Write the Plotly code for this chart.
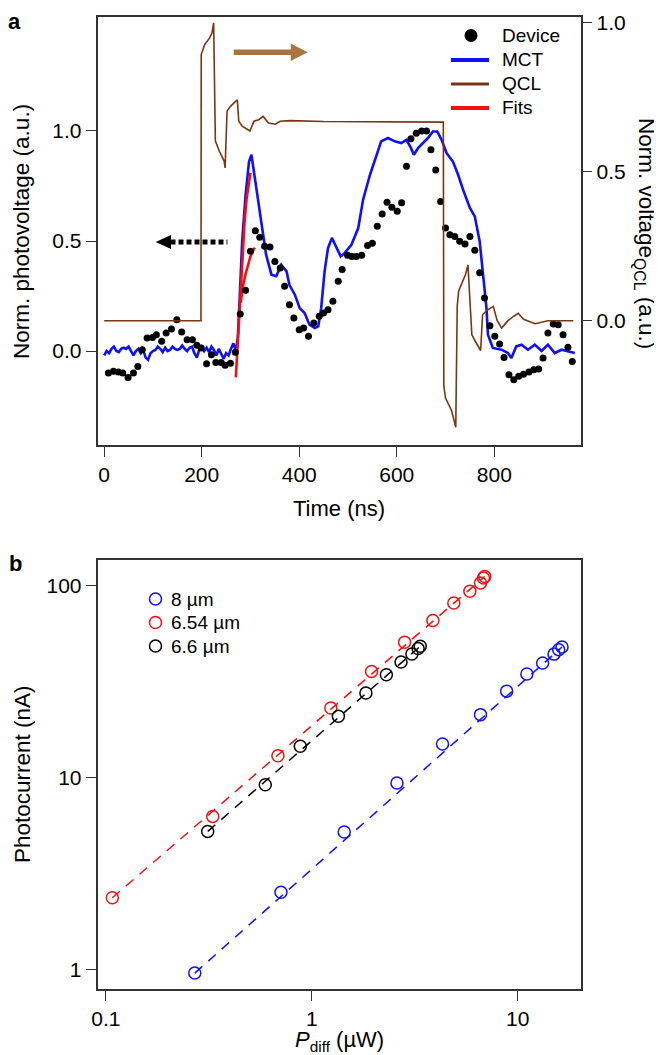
import plotly.graph_objects as go

FONT = "Liberation Sans, Arial, Helvetica, sans-serif"
W, H = 662, 1055

# ---------------- Panel a data ----------------
device_t = [8.7, 19, 29, 38, 49, 60, 69, 78, 88, 99, 107, 118, 127, 138, 149, 159, 170, 181, 190, 199,
            210, 220, 229, 240, 248, 259, 269, 279, 290, 300, 310, 319, 329, 340, 350, 361, 370, 380, 389, 400,
            409, 419, 430, 441, 450, 459, 469, 480, 488, 499, 508, 517, 528, 540, 550, 560, 570, 580, 590, 601,
            610, 620, 629, 640, 651, 661, 670, 680, 690, 700, 709, 719, 729, 740, 750, 760, 770, 780, 791, 801,
            811, 820, 830, 840, 850, 860, 871, 881, 891, 900, 910, 921, 931, 941, 951, 960]
device_v = [-0.10, -0.092, -0.095, -0.10, -0.12, -0.10, -0.07, 0.006, 0.059, 0.062, 0.074, 0.044, 0.082, 0.10, 0.142, 0.086, 0.051, 0.051, 0.026, 0.014,
            -0.058, -0.017, -0.052, -0.052, -0.065, -0.055, -0.006, 0.168, 0.276, 0.453, 0.547, 0.517, 0.476, 0.473, 0.407, 0.377, 0.294, 0.21, 0.15, 0.097,
            0.105, 0.067, 0.127, 0.158, 0.173, 0.188, 0.226, 0.317, 0.37, 0.435, 0.43, 0.43, 0.435, 0.48, 0.49, 0.567, 0.623, 0.676, 0.653, 0.635,
            0.674, 0.84, 0.965, 0.99, 1.0, 1.0, 0.915, 0.823, 0.68, 0.559, 0.529, 0.521, 0.499, 0.486, 0.521, 0.458, 0.356, 0.241, 0.115, 0.067,
            0.032, -0.029, -0.108, -0.13, -0.115, -0.105, -0.095, -0.085, -0.082, -0.032, 0.082, 0.123, 0.12, 0.074, 0.017, -0.047]

mct_t = [0, 5, 10, 15, 20, 25, 30, 35, 40, 45, 50, 55, 60, 65, 70, 75, 80, 85, 90, 95,
         100, 105, 110, 115, 120, 125, 130, 135, 140, 145, 150, 155, 160, 165, 170, 175, 180, 185, 190, 195,
         200, 205, 210, 215, 220, 225, 230, 235, 240, 245, 250, 255, 260, 265, 270, 274, 278, 283, 290, 297,
         302, 312, 322, 332, 343, 353, 363, 374, 380, 391, 401, 411, 421, 432, 439, 445, 452, 459, 467, 476,
         485, 493, 507, 521, 531, 545, 558, 568, 582, 596, 609, 620, 629, 635, 644, 654, 664, 674, 683, 692,
         702, 715, 726, 736, 750, 760, 770, 777, 784, 787, 797, 815, 828, 835, 845, 856, 869, 883, 897, 910,
         924, 938, 951, 965]
mct_v = [-0.02, 0.0, -0.01, 0.01, 0.02, 0.0, -0.005, 0.01, 0.015, 0.01, 0.02, 0.0, -0.02, 0.0, 0.01, -0.01, 0.005, -0.03, -0.04, -0.01,
         0.0, 0.005, 0.02, 0.01, -0.005, 0.015, 0.0, 0.005, 0.02, 0.01, 0.005, 0.01, 0.025, 0.01, 0.0, 0.015, 0.02, -0.01, -0.03, 0.005,
         0.02, 0.0, 0.015, -0.005, 0.02, 0.005, -0.02, 0.01, -0.01, -0.035, -0.01, -0.02, 0.01, 0.035, 0.0, 0.06, 0.25, 0.5, 0.71, 0.86,
         0.892, 0.741, 0.574, 0.438, 0.347, 0.34, 0.392, 0.362, 0.30, 0.256, 0.195, 0.173, 0.12, 0.105, 0.112, 0.195, 0.362, 0.468, 0.514, 0.468,
         0.43, 0.445, 0.483, 0.559, 0.688, 0.80, 0.892, 0.953, 0.968, 0.953, 0.945, 0.96, 0.923, 0.892, 0.923, 0.945, 0.968, 0.998, 0.998, 0.96,
         0.90, 0.862, 0.80, 0.733, 0.65, 0.612, 0.499, 0.347, 0.195, 0.074, 0.014, 0.006, -0.009, -0.032, 0.021, 0.029, 0.006, 0.029, 0.0, 0.029,
         -0.009, 0.006, 0.0, -0.009]

qcl_t = [0, 100, 198.5, 199, 206, 216, 221, 224.5, 228, 236, 246, 248, 252, 259, 273, 276, 283, 299, 307, 317,
         326, 337, 351, 361, 382, 450, 550, 650, 695.5, 696.5, 700, 706, 712, 721, 724, 727, 735, 741, 746, 749,
         754, 763, 772, 776, 785, 798, 806, 815, 828, 840, 849, 860, 884, 910, 962]
qcl_v = [0.0, 0.0, 0.0, 0.894, 0.927, 0.949, 0.966, 1.0, 0.604, 0.57, 0.536, 0.513, 0.704, 0.72, 0.742, 0.67, 0.653, 0.637, 0.67, 0.675,
         0.686, 0.664, 0.66, 0.67, 0.672, 0.669, 0.668, 0.668, 0.667, -0.22, -0.26, -0.28, -0.30, -0.358, 0.05, 0.10, 0.13, 0.155, 0.187, 0.10,
         -0.047, -0.075, -0.10, 0.02, 0.035, 0.048, 0.0, -0.025, 0.0, 0.015, 0.025, 0.005, -0.01, 0.0, 0.0]

fit1_t = [270, 272, 274, 277, 280, 284, 288, 292, 296, 300]
fit1_v = [-0.12, -0.04, 0.03, 0.13, 0.28, 0.44, 0.59, 0.69, 0.76, 0.81]
fit2_t = [280, 285, 290, 295, 300, 305, 309]
fit2_v = [0.22, 0.30, 0.35, 0.395, 0.43, 0.455, 0.47]

# ---------------- Panel b data ----------------
p8_x = [0.270, 0.708, 1.436, 2.59, 4.31, 6.59, 8.83, 11.07, 13.2, 15.0, 15.8, 16.4]
p8_y = [0.957, 2.52, 5.19, 9.34, 14.9, 21.2, 28.1, 34.5, 39.4, 43.8, 46.2, 47.7]
p654_x = [0.1074, 0.330, 0.684, 1.236, 1.95, 2.82, 3.87, 4.89, 5.85, 6.59, 6.81, 6.91]
p654_y = [2.36, 6.26, 12.96, 22.96, 35.6, 50.5, 65.5, 80.9, 93.0, 102.8, 109, 111]
p66_x = [0.312, 0.594, 0.879, 1.345, 1.83, 2.30, 2.71, 3.06, 3.28, 3.36]
p66_y = [5.23, 9.15, 14.5, 20.8, 27.5, 34.2, 39.8, 43.9, 46.8, 48.1]
fit8_x, fit8_y = [0.27, 16.4], [0.957, 47.7]
fit654_x, fit654_y = [0.1074, 6.91], [2.36, 111]
fit66_x, fit66_y = [0.312, 3.36], [5.23, 48.1]

legend_a_labels = ["Device", "MCT", "QCL", "Fits"]
legend_b_labels = ["8 µm", "6.54 µm", "6.6 µm"]

C_BLUE = "#1010F5"
C_RED = "#F01010"
C_QCL = "#7A3512"
C_TAN = "#A87440"
AXC = "#333333"

fig = go.Figure()

# Panel a traces
fig.add_trace(go.Scatter(x=qcl_t, y=qcl_v, mode="lines", name="QCL", yaxis="y2", xaxis="x",
                         line=dict(color=C_QCL, width=1.6)))
fig.add_trace(go.Scatter(x=mct_t, y=mct_v, mode="lines", name="MCT", xaxis="x", yaxis="y",
                         line=dict(color=C_BLUE, width=2.6)))
fig.add_trace(go.Scatter(x=fit1_t, y=fit1_v, mode="lines", name="Fits", xaxis="x", yaxis="y",
                         line=dict(color=C_RED, width=2.6)))
fig.add_trace(go.Scatter(x=fit2_t, y=fit2_v, mode="lines", name="Fits", xaxis="x", yaxis="y",
                         line=dict(color=C_RED, width=2.6)))
fig.add_trace(go.Scatter(x=device_t, y=device_v, mode="markers", name="Device", xaxis="x", yaxis="y",
                         marker=dict(color="black", size=7)))

# Panel b traces
for fx, fy, col in [(fit8_x, fit8_y, C_BLUE), (fit654_x, fit654_y, C_RED), (fit66_x, fit66_y, "black")]:
    fig.add_trace(go.Scatter(x=fx, y=fy, mode="lines", xaxis="x2", yaxis="y3",
                             line=dict(color=col, width=1.5, dash="10px,8px")))
for px, py, col, nm in [(p8_x, p8_y, C_BLUE, legend_b_labels[0]), (p654_x, p654_y, C_RED, legend_b_labels[1]),
                        (p66_x, p66_y, "black", legend_b_labels[2])]:
    fig.add_trace(go.Scatter(x=px, y=py, mode="markers", name=nm, xaxis="x2", yaxis="y3",
                             marker=dict(symbol="circle-open", size=12, color=col, line=dict(width=1.5))))

xdom = [89.5 / W, 572.6 / W]
ya_dom = [1 - 437 / H, 1 - 9 / H]
yb_dom = [1 - 981 / H, 1 - 551.7 / H]
tickfont = dict(family=FONT, size=21, color="black")
common = dict(showgrid=False, zeroline=False, showline=True, linecolor=AXC, linewidth=1.5,
              ticks="outside", ticklen=10, tickwidth=1.3, tickcolor=AXC, tickfont=tickfont, automargin=False)

fig.update_layout(
    width=W, height=H, margin=dict(l=0, r=0, t=0, b=0),
    paper_bgcolor="white", plot_bgcolor="white",
    font=dict(family=FONT, size=21, color="black"),
    showlegend=False,
    xaxis=dict(domain=xdom, range=[-13.7, 977], anchor="y", mirror=True,
               tickvals=[0, 200, 400, 600, 800], **common),
    yaxis=dict(domain=ya_dom, range=[-0.427, 1.518], anchor="x", mirror=True,
               tickvals=[0, 0.5, 1.0], ticktext=["0.0", "0.5", "1.0"], **common),
    yaxis2=dict(range=[-0.4175, 1.020], overlaying="y", side="right", anchor="x",
                tickvals=[0, 0.5, 1.0], ticktext=["0.0", "0.5", "1.0"], **common),
    xaxis2=dict(domain=xdom, type="log", range=[-1.041, 1.305], anchor="y3", mirror=True,
                tickvals=[0.1, 1, 10], ticktext=["0.1", "1", "10"], **common),
    yaxis3=dict(domain=yb_dom, type="log", range=[-0.102, 2.133], anchor="x2", mirror=True,
                tickvals=[1, 10, 100], ticktext=["1", "10", "100"], **common),
)


def px_x(p):
    return p / W


def px_y(p):
    return 1 - p / H


TF_Y = dict(family=FONT, size=22.5, color="black")
TF_X = dict(family=FONT, size=22, color="black")
ann = [
    dict(text="Norm. photovoltage (a.u.)", x=px_x(14), y=px_y(224), textangle=-90, font=TF_Y),
    dict(text="Time (ns)", x=px_x(331), y=px_y(500), font=TF_X),
    dict(text="Norm. voltage<sub>QCL</sub> (a.u.)", x=px_x(637), y=px_y(225), textangle=90, font=TF_Y),
    dict(text="Photocurrent (nA)", x=px_x(14), y=px_y(766), textangle=-90, font=TF_Y),
    dict(text="<i>P</i><sub>diff</sub> (µW)", x=px_x(331), y=px_y(1033), font=TF_X),
    dict(text="<b>a</b>", x=px_x(6), y=px_y(13), font=dict(family=FONT, size=22, color="black")),
    dict(text="<b>b</b>", x=px_x(7), y=px_y(555), font=dict(family=FONT, size=22, color="black")),
]
for a in ann:
    fig.add_annotation(xref="paper", yref="paper", showarrow=False, xanchor="center", yanchor="middle", **a)

# ---- legend, panel a (drawn manually for exact spacing) ----
leg_a_y = [27.5, 52, 76, 100]
fig.add_shape(type="circle", xref="paper", yref="paper", x0=px_x(456.5), x1=px_x(469.5),
              y0=px_y(leg_a_y[0] + 6.5), y1=px_y(leg_a_y[0] - 6.5), fillcolor="black", line=dict(width=0))
for yy, col, lw in [(leg_a_y[1], C_BLUE, 4), (leg_a_y[2], C_QCL, 3.2), (leg_a_y[3], C_RED, 4)]:
    fig.add_shape(type="line", xref="paper", yref="paper", x0=px_x(443), x1=px_x(481),
                  y0=px_y(yy), y1=px_y(yy), line=dict(color=col, width=lw))
for lab, yy in zip(legend_a_labels, leg_a_y):
    fig.add_annotation(xref="paper", yref="paper", x=px_x(492), y=px_y(yy), text=lab, showarrow=False,
                       xanchor="left", yanchor="middle", font=dict(family=FONT, size=19, color="black"))

# ---- legend, panel b ----
leg_b_y = [591, 614.5, 638]
for lab, yy, col in zip(legend_b_labels, leg_b_y, [C_BLUE, C_RED, "black"]):
    fig.add_shape(type="circle", xref="paper", yref="paper", x0=px_x(141.5), x1=px_x(153.5),
                  y0=px_y(yy + 6), y1=px_y(yy - 6), line=dict(color=col, width=1.5))
    fig.add_annotation(xref="paper", yref="paper", x=px_x(161), y=px_y(yy), text=lab, showarrow=False,
                       xanchor="left", yanchor="middle", font=dict(family=FONT, size=19, color="black"))

# Arrows (in data coordinates)
fig.add_shape(type="line", xref="x", yref="y", x0=136, x1=252.7, y0=0.4955, y1=0.4955,
              line=dict(color="black", width=5, dash="5px,3px"))
fig.add_shape(type="path", xref="x", yref="y",
              path="M 105.6 0.4955 L 137 0.5273 L 137 0.4637 Z", fillcolor="black", line=dict(width=0))
fig.add_shape(type="line", xref="x", yref="y2", x0=265.7, x1=384, y0=0.9016, y1=0.9016,
              line=dict(color=C_TAN, width=5.5))
fig.add_shape(type="path", xref="x", yref="y2",
              path="M 417.2 0.9016 L 382.6 0.9308 L 382.6 0.8724 Z", fillcolor=C_TAN, line=dict(width=0))

fig.write_html("out.html")
